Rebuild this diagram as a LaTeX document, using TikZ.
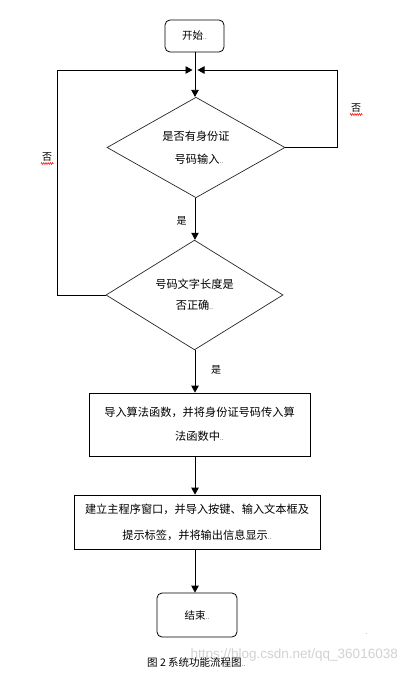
\documentclass[tikz,border=0pt]{standalone}
\usepackage{fontspec}
\newfontfamily\cjk{Noto Sans CJK SC}
\setsansfont{Liberation Sans}
\usetikzlibrary{shapes.geometric,arrows.meta,decorations.pathmorphing}
\newcommand{\pmk}{{\fontsize{6pt}{6pt}\selectfont.\kern0.4pt.}}
\begin{document}
\begin{tikzpicture}[x=1pt,y=-1pt,
  every node/.style={inner sep=0pt},
  ln/.style={line width=0.8pt,draw=black},
  arr/.style={ln,-{Triangle[length=7pt,width=7.5pt]}},
  roundbox/.style={draw,line width=0.8pt,rounded corners=5pt,font=\cjk\fontsize{10.5pt}{12pt}\selectfont},
  dia/.style={draw,line width=0.7pt,draw=black!85,diamond,align=center},
  procbox/.style={draw,line width=0.8pt,align=center},
  txt/.style={font=\cjk\fontsize{11.2pt}{12pt}\selectfont},
  nolabel/.style={font=\cjk\fontsize{10pt}{11pt}\selectfont}
]
\useasboundingbox (0,0) rectangle (411,674);
% watermark
\node[anchor=east,font=\sffamily\fontsize{13.5pt}{14pt}\selectfont,text=black!18] (wm) at (398,655) {https://blog.csdn.net/qq\_36016038};
% nodes
\node[roundbox,minimum width=59pt,minimum height=32pt] (start) at (194.5,36) {开始\pmk};
\node[dia,minimum width=178pt,minimum height=100pt,font=\cjk\fontsize{11.2pt}{23pt}\selectfont] (d1) at (196,147.5) {是否有身份证\\ \hspace*{6pt}号码输入\pmk};
\node[dia,minimum width=177pt,minimum height=104pt,font=\cjk\fontsize{11.2pt}{21pt}\selectfont] (d2) at (194.5,295) {号码文字长度是\\ 否正确\pmk};
\node[procbox,minimum width=221pt,minimum height=63pt,font=\cjk\fontsize{11.2pt}{24pt}\selectfont] (b1) at (199.5,424.5) {导入算法函数，并将身份证号码传入算\\ 法函数中\pmk};
\node[procbox,minimum width=246pt,minimum height=54pt,font=\cjk\fontsize{11.2pt}{26pt}\selectfont] (b2) at (197,522) {建立主程序窗口，并导入按键、输入文本框及\\ 提示标签，并将输出信息显示\pmk};
\node[roundbox,minimum width=80pt,minimum height=44pt] (end) at (197,615) {结束\pmk};
% loop coordinates
\coordinate (m) at (195,70);
\coordinate (lc) at (57,70);
\coordinate (rc) at (337,70);
% main flow
\draw[arr] (start.south -| m) -- (d1.north -| m);
\draw[arr] (d1.south -| m) -- (d2.north -| m);
\draw[arr] (d2.south -| m) -- (b1.north -| m);
\draw[arr] (b1.south -| m) -- (b2.north -| m);
\draw[arr] (b2.south -| m) -- (end.north -| m);
% loops
\draw[arr] (d2.west) -| (lc) -- ([xshift=-2.5pt]m);
\draw[arr] (d1.east) -| (rc) -- ([xshift=2.5pt]m);
% labels
\node[nolabel] (yes1) at (181.5,221) {是};
\node[nolabel] (yes2) at (216,370) {是};
\node[nolabel] (no1) at (47,157) {否};
\node[nolabel] (no2) at (356,108) {否};
\draw[red,line width=0.5pt,decorate,decoration={zigzag,amplitude=1pt,segment length=2.2pt}] (41,163.5) -- (53.5,163.5);
\draw[red,line width=0.5pt,decorate,decoration={zigzag,amplitude=1pt,segment length=2.2pt}] (350,114.5) -- (362.5,114.5);
% caption
\node[anchor=west,font=\cjk\fontsize{10.5pt}{12pt}\selectfont] (cap) at (147,662) {图 2 系统功能流程图\pmk};
\node[font=\fontsize{6pt}{6pt}\selectfont] (dot) at (367,634) {.};
\end{tikzpicture}
\end{document}
